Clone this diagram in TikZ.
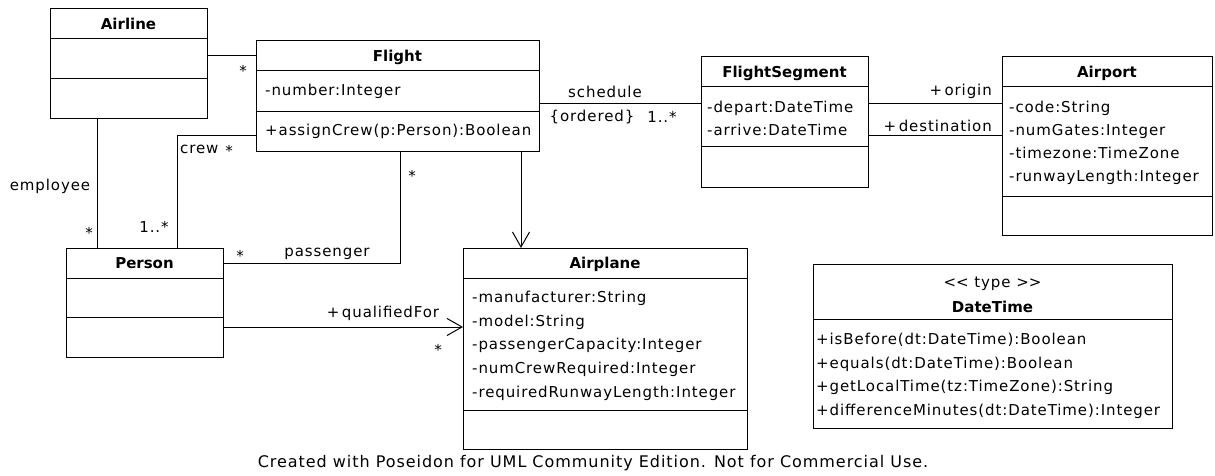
\documentclass[tikz,border=0pt]{standalone}
\usepackage{fontspec}
\setmainfont{DejaVu Sans}
\newfontfamily\rowfont{DejaVu Sans}[LetterSpace=6]
\usetikzlibrary{arrows.meta,positioning}

\begin{document}
\begin{tikzpicture}[x=1pt, y=-1pt,
  comp/.style 2 args={draw, line width=1pt, inner sep=0pt, outer sep=0pt, anchor=north west, minimum width=#1, minimum height=#2},
  title/.style={font=\bfseries\fontsize{15}{18}\selectfont, text height=11pt, text depth=0pt},
  row/.style={anchor=west, inner sep=0pt, font=\rowfont\fontsize{15}{18}\selectfont, text height=11pt, text depth=0pt},
  lbl/.style={inner sep=0pt, font=\rowfont\fontsize{15}{18}\selectfont, text height=11pt, text depth=0pt},
  assoc/.style={line width=1pt},
  nav/.style={line width=1pt, -{Straight Barb[length=15pt, width=17pt]}}]
\useasboundingbox (0,0) rectangle (1215,476);

% classes
\node[comp={157}{30}, title] (airline) at (50,9) {Airline};
\node[comp={157}{40}] (airlineattr) at (airline.south west) {};
\node[comp={157}{40}] (airlineops) at (airlineattr.south west) {};

\node[comp={283}{30}, title] (flight) at (256,41) {Flight};
\node[comp={283}{41}] (flightattr) at (flight.south west) {};
\node[comp={283}{39}] (flightops) at (flightattr.south west) {};
\node[row] (flight-a) at ([xshift=9pt, yshift=-19pt]flightattr.north west) {-number:Integer};
\node[row] (flight-o) at ([xshift=9pt, yshift=-18pt]flightops.north west) {+assignCrew(p:Person):Boolean};

\node[comp={167}{30}, title] (fs) at (701,57) {FlightSegment};
\node[comp={167}{60}] (fsattr) at (fs.south west) {};
\node[comp={167}{40}] (fsops) at (fsattr.south west) {};
\foreach \t [count=\i from 0] in {-depart:DateTime, -arrive:DateTime}
  \node[row] (fs-\i) at ([xshift=6pt, yshift=-20pt-23pt*\i]fsattr.north west) {\t};

\node[comp={210}{30}, title] (airport) at (1002,57) {Airport};
\node[comp={210}{109}] (airportattr) at (airport.south west) {};
\node[comp={210}{39}] (airportops) at (airportattr.south west) {};
\foreach \t [count=\i from 0] in {-code:String, -numGates:Integer, -timezone:TimeZone, -runwayLength:Integer}
  \node[row] (airport-\i) at ([xshift=7pt, yshift=-20pt-23pt*\i]airportattr.north west) {\t};

\node[comp={157}{30}, title] (person) at (66,248) {Person};
\node[comp={157}{39}] (personattr) at (person.south west) {};
\node[comp={157}{40}] (personops) at (personattr.south west) {};

\node[comp={284}{30}, title] (airplane) at (463,248) {Airplane};
\node[comp={284}{132}] (airplaneattr) at (airplane.south west) {};
\node[comp={284}{39}] (airplaneops) at (airplaneattr.south west) {};
\foreach \t [count=\i from 0] in {-manufacturer:String, -model:String, -passengerCapacity:Integer, -numCrewRequired:Integer, -requiredRunwayLength:Integer}
  \node[row] (airplane-\i) at ([xshift=9pt, yshift=-19pt-23.7pt*\i]airplaneattr.north west) {\t};

\node[comp={359}{55}] (datetime) at (813,264) {};
\node[comp={359}{109}] (datetimeops) at (datetime.south west) {};
\node[lbl] (datetime-st) at ([yshift=-18pt]datetime.north) {<\kern0pt< type >\kern0pt>};
\node[title, inner sep=0pt] (datetime-name) at ([yshift=-43pt]datetime.north) {DateTime};
\foreach \t [count=\i from 0] in {+isBefore(dt:DateTime):Boolean, +equals(dt:DateTime):Boolean, +getLocalTime(tz:TimeZone):String, +differenceMinutes(dt:DateTime):Integer}
  \node[row] (datetime-\i) at ([xshift=3pt, yshift=-20pt-23.7pt*\i]datetimeops.north west) {\t};

% associations
\draw[assoc] (flight.west) -- (flight.west -| airline.east);
\draw[assoc] ([xshift=47pt]airlineops.south west) -- ([xshift=31pt]person.north west);
\draw[assoc] ([yshift=-4.5pt]flightops.west) -| ([xshift=111pt]person.north west);
\draw[assoc] ([xshift=144pt]flightops.south west) |- (person.east);
\draw[nav] ([xshift=265pt]flightops.south west) -- ([xshift=58pt]airplane.north west);
\coordinate (qf) at ([yshift=10pt]personops.east);
\draw[nav] (qf) -- (qf -| airplaneattr.west);
\coordinate (sch) at ([yshift=-12.5pt]flightattr.east);
\draw[assoc] (sch) -- (sch -| fsattr.west);
\coordinate (org) at ([yshift=13pt]fsattr.east);
\draw[assoc] (org) -- (org -| airportattr.west);
\coordinate (dst) at ([yshift=-19pt]fsattr.east);
\draw[assoc] (dst) -- (dst -| airportattr.west);

% role names and multiplicities
\node[lbl] (m1) at (243,71) {*};
\node[lbl] (employee) at (50,185) {employee};
\node[lbl] (m2) at (89,233) {*};
\node[lbl, anchor=west] (crew) at (180,148) {crew};
\node[lbl] (m3) at (229,151) {*};
\node[lbl] (m4) at (154,227) {1..*};
\node[lbl] (m5) at (412,176) {*};
\node[lbl] (m6) at (240,256) {*};
\node[lbl] (passenger) at (327,251) {passenger};
\node[lbl] (qualified) at (383,312) {+\,qualifiedFor};
\node[lbl] (m7) at (438,350) {*};
\node[lbl] (schedule) at (605,92) {schedule};
\node[lbl] (ordered) at (592,116) {\{ordered\}};
\node[lbl] (m8) at (662,117) {1..*};
\node[lbl, anchor=east] (origin) at (992,90) {+\,origin};
\node[lbl, anchor=east] (destination) at (992,126) {+\,destination};

\node[lbl, font=\rowfont\fontsize{16}{18}\selectfont] (note) at (593,462) {Created with Poseidon for UML Community Edition. Not for Commercial Use.};
\end{tikzpicture}
\end{document}
